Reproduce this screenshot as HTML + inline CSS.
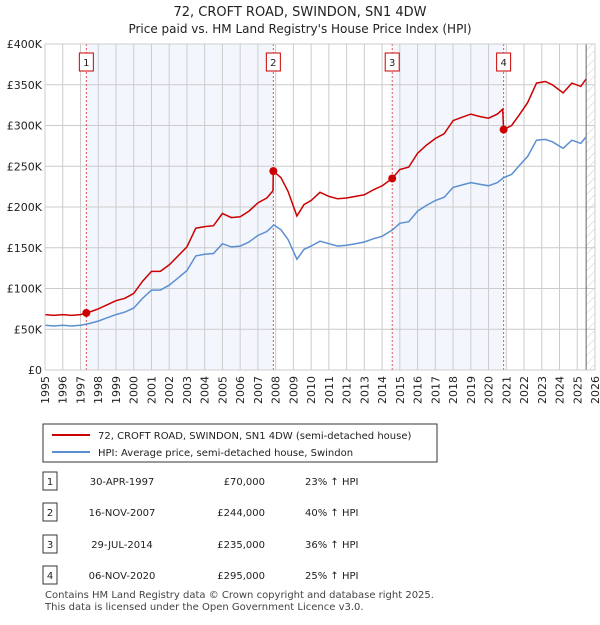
<!DOCTYPE html>
<html><head><meta charset="utf-8"><style>
body{margin:0;background:#fff;font-family:"Liberation Sans","DejaVu Sans",sans-serif;}
svg text{font-family:"DejaVu Sans","Liberation Sans",sans-serif;}
</style></head><body>
<svg id="c" width="600" height="620" xmlns="http://www.w3.org/2000/svg">
<defs><pattern id="hatch" width="6" height="6" patternUnits="userSpaceOnUse" patternTransform="rotate(45)"><line x1="0" y1="0" x2="0" y2="6" stroke="#ccc" stroke-width="1"/></pattern></defs>
<text x="300" y="16" text-anchor="middle" font-size="13" fill="#222">72, CROFT ROAD, SWINDON, SN1 4DW</text>
<text x="300" y="33" text-anchor="middle" font-size="12" fill="#222">Price paid vs. HM Land Registry's House Price Index (HPI)</text>
<g id="plot"></g>
<rect x="43" y="424" width="394" height="38" fill="#fff" stroke="#333"/>
<line x1="52" y1="435" x2="90" y2="435" stroke="#cc0000" stroke-width="2"/>
<text x="98" y="439" font-size="10" fill="#222">72, CROFT ROAD, SWINDON, SN1 4DW (semi-detached house)</text>
<line x1="52" y1="452" x2="90" y2="452" stroke="#5b8fd1" stroke-width="2"/>
<text x="98" y="456" font-size="10" fill="#222">HPI: Average price, semi-detached house, Swindon</text>
<g id="table" font-size="10" fill="#222"></g>
<text x="45" y="598" font-size="10" fill="#444">Contains HM Land Registry data © Crown copyright and database right 2025.</text>
<text x="45" y="610" font-size="10" fill="#444">This data is licensed under the Open Government Licence v3.0.</text>
</svg>
<script>
const hpiYears=[1995,1995.5,1996,1996.5,1997,1997.5,1998,1998.5,1999,1999.5,2000,2000.5,2001,2001.5,2002,2002.5,2003,2003.5,2004,2004.5,2005,2005.5,2006,2006.5,2007,2007.5,2007.9,2008.3,2008.7,2009.2,2009.6,2010,2010.5,2011,2011.5,2012,2012.5,2013,2013.5,2014,2014.6,2015,2015.5,2016,2016.5,2017,2017.5,2018,2018.5,2019,2019.5,2020,2020.5,2020.85,2021.3,2021.7,2022.2,2022.7,2023.2,2023.6,2024.2,2024.7,2025.2,2025.5];
const hpiValues=[55,54,55,54,55,57,60,64,68,71,76,88,98,98,104,113,122,140,142,143,155,151,152,157,165,170,178,172,160,136,148,152,158,155,152,153,155,157,161,164,172,180,182,195,202,208,212,224,227,230,228,226,230,236,240,250,262,282,283,280,272,282,278,286];
const priceYears=[1995,1995.5,1996,1996.5,1997,1997.33,1997.5,1998,1998.5,1999,1999.5,2000,2000.5,2001,2001.5,2002,2002.5,2003,2003.5,2004,2004.5,2005,2005.5,2006,2006.5,2007,2007.5,2007.85,2007.87,2008.3,2008.7,2009.2,2009.6,2010,2010.5,2011,2011.5,2012,2012.5,2013,2013.5,2014,2014.57,2015,2015.5,2016,2016.5,2017,2017.5,2018,2018.5,2019,2019.5,2020,2020.5,2020.8,2020.85,2021.3,2021.7,2022.2,2022.7,2023.2,2023.6,2024.2,2024.7,2025.2,2025.5];
const priceValues=[68,67,68,67,68,70,71,75,80,85,88,94,109,121,121,129,140,151,174,176,177,192,187,188,195,205,211,220,244,236,219,189,203,208,218,213,210,211,213,215,221,226,235,246,249,266,276,284,290,306,310,314,311,309,314,320,295,300,312,328,352,354,350,340,352,348,357];
const saleYears=[1997.33,2007.87,2014.57,2020.85];
const salePrices=[70,244,235,295];
const saleDates=["30-APR-1997","16-NOV-2007","29-JUL-2014","06-NOV-2020"];
const saleLabels=["£70,000","£244,000","£235,000","£295,000"];
const saleHpi=["23% ↑ HPI","40% ↑ HPI","36% ↑ HPI","25% ↑ HPI"];
const yTicks=[0,50,100,150,200,250,300,350,400];
const yTickLabels=["£0","£50K","£100K","£150K","£200K","£250K","£300K","£350K","£400K"];
const xTicks=[1995,1996,1997,1998,1999,2000,2001,2002,2003,2004,2005,2006,2007,2008,2009,2010,2011,2012,2013,2014,2015,2016,2017,2018,2019,2020,2021,2022,2023,2024,2025,2026];

const L=45,R=595,T=44,B=370;
const X=y=>L+(y-1995)/31*(R-L);
const Y=v=>B-v/400*(B-T);
const NS="http://www.w3.org/2000/svg";
const g=document.getElementById('plot');
function mk(tag,attrs,parent){const e=document.createElementNS(NS,tag);for(const k in attrs)e.setAttribute(k,attrs[k]);(parent||g).appendChild(e);return e;}
let e;
e=mk('rect',{x:L,y:T,width:R-L,height:B-T,fill:'#fff'});


e=mk('rect',{x:X(saleYears[0]),y:T,width:X(saleYears[1])-X(saleYears[0]),height:B-T,fill:'#eef3fc',opacity:0.7});


e=mk('rect',{x:X(saleYears[2]),y:T,width:X(saleYears[3])-X(saleYears[2]),height:B-T,fill:'#eef3fc',opacity:0.7});


e=mk('rect',{x:X(2025.5),y:T,width:R-X(2025.5),height:B-T,fill:'url(#hatch)'});


xTicks.forEach((t,i)=>{
 e=mk('line',{x1:X(t),x2:X(t),y1:T,y2:B,stroke:'#ccc','stroke-width':1});
 
 
 e=mk('text',{x:0,y:0,transform:`translate(${X(t)+4},${B+6}) rotate(-90)`,'text-anchor':'end','font-size':11,fill:'#222'});
 e.textContent=t;
 
 
});
yTicks.forEach((t,i)=>{
 e=mk('line',{x1:L,x2:R,y1:Y(t),y2:Y(t),stroke:'#ccc','stroke-width':1});
 
 
 e=mk('text',{x:L-3,y:Y(t)+4,'text-anchor':'end','font-size':11,fill:'#222'});
 e.textContent=yTickLabels[i];
 
 
});
e=mk('line',{x1:X(2025.5),x2:X(2025.5),y1:T,y2:B,stroke:'#666','stroke-width':1});


saleYears.forEach((s,i)=>{
 e=mk('line',{x1:X(s),x2:X(s),y1:T,y2:B,stroke:'#e05050','stroke-width':1,'stroke-dasharray':'2,2'});
 
 
});
function path(xs,vs){return xs.map((x,i)=>(i?'L':'M')+X(x).toFixed(1)+','+Y(vs[i]).toFixed(1)).join(' ');}
e=mk('path',{d:path(hpiYears,hpiValues),fill:'none',stroke:'#5b8fd1','stroke-width':1.5});


e=mk('path',{d:path(priceYears,priceValues),fill:'none',stroke:'#cc0000','stroke-width':1.5});


saleYears.forEach((s,i)=>{
 e=mk('circle',{cx:X(s),cy:Y(salePrices[i]),r:4,fill:'#cc0000'});
 
 
 e=mk('rect',{x:X(s)-14,y:53,width:14,height:18,fill:'#fff',stroke:'#cc0000'});
 e.setAttribute('x',X(s)-7-(i===3?3:0)*0);
 
 
 e=mk('text',{x:X(s),y:66,'text-anchor':'middle','font-size':10,fill:'#222'});
 e.textContent=i+1;
 
 
});
e=mk('rect',{x:L,y:T,width:R-L,height:B-T,fill:'none',stroke:'#ccc'});


const tb=document.getElementById('table');
const rowY=[482,513,545,576];
saleYears.forEach((s,i)=>{
 const y=rowY[i];
 e=mk('rect',{x:43,y:y-10,width:14,height:18,fill:'#fff',stroke:'#333'},tb);
 
 
 e=mk('text',{x:50,y:y+3,'text-anchor':'middle'},tb);e.textContent=i+1;
 
 
 e=mk('text',{x:122,y:y+3,'text-anchor':'middle'},tb);e.textContent=saleDates[i];
 
 
 e=mk('text',{x:265,y:y+3,'text-anchor':'end'},tb);e.textContent=saleLabels[i];
 
 
 e=mk('text',{x:305,y:y+3},tb);e.textContent=saleHpi[i];
 
 
});
</script>
</body></html>
